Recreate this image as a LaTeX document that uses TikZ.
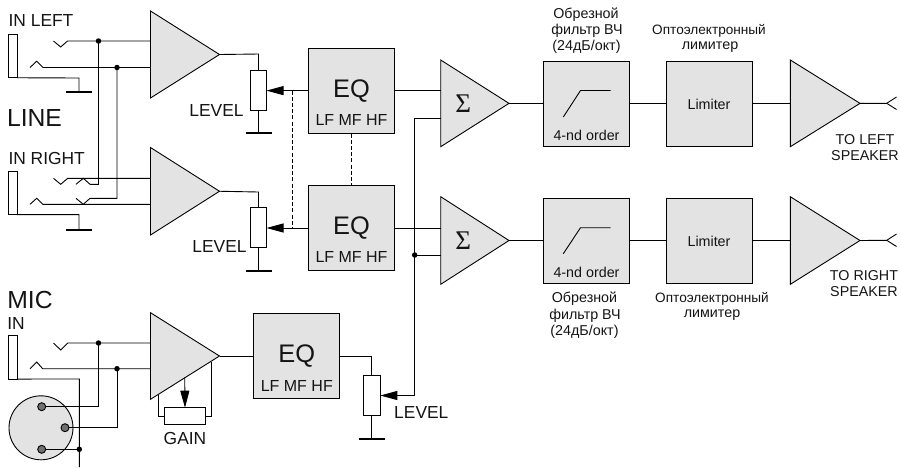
\documentclass[tikz,border=0pt]{standalone}
\usepackage{fontspec}
\setmainfont{Liberation Sans}
\newfontfamily\sigmafont{Liberation Serif}
\usetikzlibrary{arrows.meta}
\definecolor{ink}{HTML}{000000}
\definecolor{textink}{HTML}{141414}
\definecolor{panel}{HTML}{E3E3E3}
\definecolor{pin}{HTML}{707070}
\newcommand{\fs}[1]{\fontsize{#1}{#1}\selectfont}
\tikzset{
  wire/.style={draw=ink,line width=0.9pt,line join=miter},
  link/.style={draw=ink,line width=0.9pt,dash pattern=on 4pt off 2.2pt},
  earth/.style={draw=ink,line width=2pt},
  wiper/.style={wire,-{Triangle[length=17pt,width=9pt]}},
  ampshape/.style={draw=ink,fill=panel,line width=0.9pt,line join=miter},
  boxed/.style={draw=ink,fill=panel,line width=0.9pt,inner sep=0pt,outer sep=0pt},
  eqbox/.style={boxed,minimum width=86pt,minimum height=85pt},
  potv/.style={draw=ink,fill=white,line width=0.9pt,inner sep=0pt,outer sep=0pt,minimum width=16pt,minimum height=40pt},
  poth/.style={potv,minimum width=41.4pt,minimum height=16.6pt},
  jack/.style={draw=ink,fill=white,line width=0.9pt,inner sep=0pt,outer sep=0pt,minimum width=8.5pt,minimum height=43.5pt},
  dot/.style={circle,fill=black,inner sep=0pt,minimum size=5.5pt},
  txt/.style={inner sep=0pt,outer sep=0pt,align=center,text=textink},
  big/.style={txt,font=\fs{24.7}},
  mid/.style={txt,font=\fs{17.4}},
  eqtxt/.style={txt,font=\fs{25.4}},
  bandtxt/.style={txt,font=\fs{16}},
  small/.style={txt,font=\fs{14.3}},
  opto/.style={txt,font=\fs{13.6}},
  sigmatxt/.style={txt,font=\sigmafont\fs{27}},
}
% name, x left, y top, y bottom, x tip
\newcommand{\ampl}[5]{%
  \path[ampshape] (#2,#3) -- (#5,{(#3+#4)/2}) -- (#2,#4) -- cycle;
  \coordinate (#1) at (#5,{(#3+#4)/2});
}
\begin{document}
\begin{tikzpicture}[x=1pt,y=-1pt]
\useasboundingbox (0,0) rectangle (901,467);

% amplifiers
\ampl{a1}{150.5}{11}{98}{219.5}
\ampl{a2}{150.5}{147.5}{235}{219.5}
\ampl{a3}{150.5}{312.7}{399.3}{219.5}
\ampl{s1}{440.7}{60}{146.7}{509}
\ampl{s2}{440.7}{196.7}{284.3}{509}
\ampl{o1}{790.3}{60}{146.7}{860}
\ampl{o2}{790.3}{196.7}{284.3}{860}

% boxes
\node[eqbox] (eq1) at (351,91) {};
\node[eqbox] (eq2) at (351,227.5) {};
\node[eqbox] (eq3) at (296.3,356) {};
\node[eqbox,minimum height=85pt] (f1) at (586.7,103.5) {};
\node[eqbox,minimum height=85pt] (f2) at (586.7,240.6) {};
\node[eqbox,minimum height=85pt] (l1) at (709.2,103.5) {};
\node[eqbox,minimum height=85pt] (l2) at (709.2,240.6) {};

% pots
\node[potv] (p1) at (258.5,90.3) {};
\node[potv] (p2) at (258.5,227.8) {};
\node[potv,minimum width=17pt] (p3) at (371.8,395.5) {};
\node[poth] (pg) at (185,416) {};

% jacks
\node[jack] (j1) at (12.7,56) {};
\node[jack] (j2) at (12.7,192.8) {};
\node[jack] (j3) at (12.7,357.3) {};

% grounds
\coordinate (g1) at (79,92);
\coordinate (g2) at (79,230);
\coordinate (gp1) at (258.5,133);
\coordinate (gp2) at (258.5,270.5);
\coordinate (gp3) at (371.8,439.3);
\foreach \g in {g1,g2,gp1,gp2,gp3}
  \draw[earth] ([xshift=-13pt]\g) -- ([xshift=13pt]\g);
\draw[wire] (j1.south east) -- (79,78) -- (g1);
\draw[wire] (j2.south east) -- (79,214.6) -- (g2);
\draw[wire] (p1.south) -- (gp1);
\draw[wire] (p2.south) -- (gp2);
\draw[wire] (p3.south) -- (gp3);

% input jack contacts, left amp 1
\node[dot] (d1) at (98.5,41) {};
\node[dot] (d2) at (117,67.5) {};
\coordinate (a1i1) at (150.5,41);
\coordinate (a1i2) at (150.5,67.5);
\draw[wire] (53.5,41) -- (60.7,47) -- (67.5,41) -- (d1.center) -- (a1i1);
\draw[wire] (30,67.5) -- (36.7,61.2) -- (43,67.5) -- (d2.center) -- (a1i2);

% amp 2
\coordinate (a2i1) at (150.5,178.3);
\coordinate (a2i2) at (150.5,204.3);
\draw[wire] (53.5,178.3) -- (60.7,184.3) -- (67.7,178.3) -- (a2i1);
\draw[wire] (30,204.3) -- (36.7,198.3) -- (42.7,204.3) -- (a2i2);
\draw[wire] (d1.center) -- (98.5,184.3) -- (90,184.3) -- (83.3,178.3) -- (76,184.3);
\draw[wire] (d2.center) -- (117,198.3) -- (90,198.3) -- (83.3,204.3) -- (76,198.3);

% amp 3
\node[dot] (d3) at (98.5,343) {};
\node[dot] (d4) at (117,368.7) {};
\coordinate (a3i1) at (150.5,343);
\coordinate (a3i2) at (150.5,368.7);
\draw[wire] (53.5,343) -- (60.7,350) -- (67.7,343) -- (d3.center) -- (a3i1);
\draw[wire] (30,368.7) -- (36.7,362) -- (42.7,368.7) -- (d4.center) -- (a3i2);

% XLR
\node[circle,draw=ink,fill=panel,line width=0.9pt,minimum size=64pt,inner sep=0pt] (xlr) at (41,427.8) {};
\node[circle,draw=ink,fill=pin,line width=0.9pt,minimum size=8pt,inner sep=0pt] (x1) at (41.7,406.7) {};
\node[circle,draw=ink,fill=pin,line width=0.9pt,minimum size=8pt,inner sep=0pt] (x2) at (65,427.7) {};
\node[circle,draw=ink,fill=pin,line width=0.9pt,minimum size=8pt,inner sep=0pt] (x3) at (41.7,449.3) {};
\coordinate (gnd3) at (79.3,467);
\node[dot] (d5) at (79.3,449.3) {};
\draw[wire] (j3.south east) -- (79.3,379) -- (gnd3);
\draw[wire] (d3.center) -- (98.5,406.7) -- (x1.east);
\draw[wire] (d4.center) -- (117,427.7) -- (x2.east);
\draw[wire] (x3.east) -- (d5.center);

% gain
\coordinate (gl) at (158.4,395);
\coordinate (gr) at (211.4,361.7);
\coordinate (gw) at (184.7,377.3);
\draw[wire] (gl) -- (158.4,416) -- (pg.west);
\draw[wire] (gr) -- (211.4,416) -- (pg.east);
\draw[wiper] (gw) -- (pg.north);

% amp -> pot
\draw[wire] (a1) -- (258.5,54) -- (p1.north);
\draw[wire] (a2) -- (258.5,192) -- (p2.north);

% EQ -> pot wipers
\draw[wiper] (eq1.west |- 0,90.6) -- (p1.east |- 0,90.6);
\draw[wiper] (eq2.west |- 0,228) -- (p2.east |- 0,228);
\coordinate (l1t) at (292.5,90.6);
\coordinate (l1b) at (292.5,228);
\draw[link] (l1t) -- (l1b);
\draw[link] (eq1.south) -- (eq2.north);

% a3 -> eq3 -> p3
\draw[wire] (a3) -- (a3 -| eq3.west);
\draw[wire] (eq3.east) -- (371.8,356) -- (p3.north);

% sum inputs
\draw[wire] (eq1.east |- 0,90.7) -- (440.7,90.7);
\draw[wire] (eq2.east |- 0,228) -- (440.7,228);
\node[dot] (d6) at (414.7,255) {};
\coordinate (s1i) at (440.7,118);
\coordinate (s2i) at (440.7,255);
\draw[wire] (s1i) -- (414.7,118) -- (d6.center);
\draw[wire] (d6.center) -- (s2i);
\draw[wiper] (d6.center) -- (414.7,395.5) -- (p3.east);

% chain
\draw[wire] (s1) -- (s1 -| f1.west);
\draw[wire] (f1.east) -- (l1.west);
\draw[wire] (l1.east) -- (l1.east -| 790.3,0);
\draw[wire] (s2) -- (s2 -| f2.west);
\draw[wire] (f2.east) -- (l2.west);
\draw[wire] (l2.east) -- (l2.east -| 790.3,0);
\coordinate (sp1) at (886.7,103.3);
\coordinate (sp2) at (886.7,240.3);
\draw[wire] (o1) -- (sp1) -- (896.5,97);
\draw[wire] (sp1) -- (896.5,109.5);
\draw[wire] (o2) -- (sp2) -- (896.5,234);
\draw[wire] (sp2) -- (896.5,246.5);

% filter curves
\draw[wire] (563.3,117) -- (580.5,90.5) -- (610.7,90.5);
\draw[wire] (563.3,253.7) -- (580.5,227.7) -- (610.7,227.7);

% text
\node[mid] (t1) at (41,21) {IN LEFT};
\node[big] (t2) at (34.5,117.5) {LINE};
\node[mid] (t3) at (46.7,159) {IN RIGHT};
\node[big] (t4) at (30,299.5) {MIC};
\node[mid] (t5) at (16,324) {IN};
\node[mid] (t6) at (216.5,110.5) {LEVEL};
\node[mid] (t7) at (219.5,247) {LEVEL};
\node[mid] (t8) at (421.3,412.7) {LEVEL};
\node[mid] (t9) at (185,438.7) {GAIN};
\node[eqtxt] (e1) at (351.5,91) {EQ};
\node[bandtxt] (b1) at (351.5,120) {LF MF HF};
\node[eqtxt] (e2) at (351.5,227.7) {EQ};
\node[bandtxt] (b2) at (351.5,257.3) {LF MF HF};
\node[eqtxt] (e3) at (296.8,356) {EQ};
\node[bandtxt] (b3) at (296.8,385.7) {LF MF HF};
\node[sigmatxt] (sg1) at (463.3,103.5) {Σ};
\node[sigmatxt] (sg2) at (463.3,240.5) {Σ};
\node[small] (o1a) at (586.5,135) {4-nd order};
\node[small] (o2a) at (586.5,272.7) {4-nd order};
\node[small] (li1) at (709,104) {Limiter};
\node[small] (li2) at (709,241) {Limiter};
\node[small] (c1) at (586,15) {Обрезной};
\node[small] (c2) at (587,31) {фильтр ВЧ};
\node[small] (c3) at (586.5,47) {(24дБ/окт)};
\node[opto] (c4) at (709,31) {Оптоэлектронный};
\node[small] (c5) at (710,47) {лимитер};
\node[small] (c6) at (584.5,299) {Обрезной};
\node[small] (c7) at (585,315.5) {фильтр ВЧ};
\node[small] (c8) at (584.5,332) {(24дБ/окт)};
\node[opto] (c9) at (712,299) {Оптоэлектронный};
\node[small] (c10) at (712,315.5) {лимитер};
\node[small] (sl1) at (865,140) {TO LEFT};
\node[small] (sl2) at (865,156) {SPEAKER};
\node[small] (sr1) at (864,275.5) {TO RIGHT};
\node[small] (sr2) at (864,291.5) {SPEAKER};
\end{tikzpicture}
\end{document}
